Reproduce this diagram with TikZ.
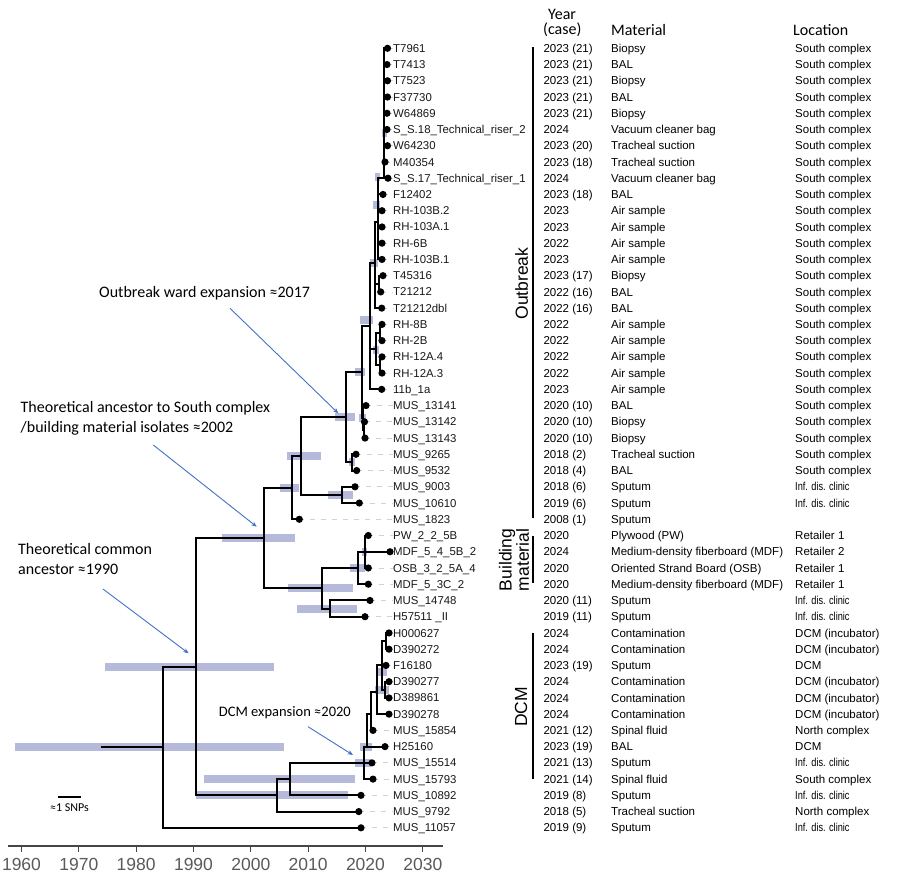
\documentclass[tikz,border=0pt]{standalone}
\usepackage{fontspec}
\usepackage{graphicx}
\setmainfont{Liberation Sans}
\newfontfamily\calib{Carlito}
\usetikzlibrary{arrows.meta}
\definecolor{barcol}{RGB}{170,174,212}
\definecolor{arrowblue}{RGB}{68,114,196}
\definecolor{axisgray}{RGB}{70,70,70}
\definecolor{ticklab}{RGB}{90,90,90}
\newcommand\infdis{\scalebox{0.8}[1]{Inf. dis. clinic}}
\begin{document}
\begin{tikzpicture}[x=1pt,y=-1pt,
  declare function={ry(\i)=48.3+16.24*(\i-1);},
  tree/.style={line width=2pt,line cap=rect,black},
  ci/.style={fill=barcol,opacity=.85},
  leader/.style={gray!35,line width=.8pt,dash pattern=on 5pt off 6pt},
  tiplab/.style={anchor=west,inner sep=0pt,font=\fontsize{11.4}{12}\selectfont,text height=8.1pt,text depth=0pt,text=black!90},
  tab/.style={anchor=west,inner sep=0pt,font=\fontsize{11.5}{12}\selectfont,text height=8.2pt,text depth=0pt},
  header/.style={anchor=west,inner sep=0pt,font=\calib\fontsize{16}{18}\selectfont},
  annot/.style={anchor=west,inner sep=0pt,align=left,font=\calib\fontsize{16}{20}\selectfont},
  clade/.style={rotate=90,inner sep=0pt,align=center,font=\fontsize{17.5}{15}\selectfont},
  cladebar/.style={line width=2pt,black},
  pointer/.style={arrowblue,line width=.9pt,-{Stealth[length=5.5pt,width=4.5pt]}},
  ticklabel/.style={inner sep=0pt,text=ticklab,font=\fontsize{17.5}{18}\selectfont}]
\fill[white] (0,0) rectangle (900,876);
\useasboundingbox (0,0) rectangle (900,876);

% ---------- confidence bars ----------
\foreach \a/\b/\c in {14.5/283.7/746.6, 104.5/274/666.9, 222/295/538.3, 280/299/487.7,
  286.7/321/456, 328.3/353.3/494.9, 335/355/417.2, 349/355/462.4, 355/365/371.9,
  359/366/417.8, 360/373/320, 370/378/263, 373/379/350, 373/380/205, 375/380/177,
  382/387/133, 288.3/352.7/588.3, 350/365/568, 361.7/367/552, 297/357/608.6,
  195.5/347.8/795.4, 203.5/355.4/779.1, 355/371/762.9, 360/372/746.6, 375/389/690, 377/387/672}
  \fill[ci] (\a,{\c-4}) rectangle (\b,{\c+4});

% ---------- tips and labels ----------
\foreach \i/\xx/\t in {
1/387.5/T7961, 2/387/T7413, 3/387.5/T7523, 4/387.5/F37730, 5/387/W64869,
6/387/S\_S.18\_Technical\_riser\_2, 7/387.5/W64230, 8/385/M40354,
9/388/S\_S.17\_Technical\_riser\_1, 10/383/F12402, 11/382/RH-103B.2, 12/382/RH-103A.1,
13/382/RH-6B, 14/382/RH-103B.1, 15/383/T45316, 16/380.7/T21212, 17/381.7/T21212dbl,
18/382/RH-8B, 19/382/RH-2B, 20/382/RH-12A.4, 21/382/RH-12A.3, 22/381.7/11b\_1a,
23/366/MUS\_13141, 24/364.5/MUS\_13142, 25/365/MUS\_13143, 26/356/MUS\_9265,
27/356.7/MUS\_9532, 28/355/MUS\_9003, 29/359.3/MUS\_10610, 30/299.3/MUS\_1823,
31/368.3/PW\_2\_2\_5B, 32/390/MDF\_5\_4\_5B\_2, 33/368.3/OSB\_3\_2\_5A\_4,
34/368.3/MDF\_5\_3C\_2, 35/370/MUS\_14748, 36/365/H57511 \_II, 37/389/H000627,
38/389/D390272, 39/386/F16180, 40/389/D390277, 41/389/D389861, 42/389/D390278,
43/373/MUS\_15854, 44/385/H25160, 45/372/MUS\_15514, 46/373/MUS\_15793,
47/361/MUS\_10892, 48/358.8/MUS\_9792, 49/361/MUS\_11057}
{
  \coordinate (t\i) at (\xx,{ry(\i)});
  \node[tiplab] (lab\i) at (393,{ry(\i)}) {\t};
}
\foreach \i in {1,...,49} \draw[leader] (t\i) -- (lab\i.west);

% ---------- internal nodes ----------
\coordinate (rootstem) at (102,746.6);
\coordinate (root) at (162.6,746.6);
\coordinate (A) at (196.2,666.9);
\coordinate (B) at (264,538.3);
\coordinate (F) at (292.3,487.7);
\coordinate (H) at (301,456);
\coordinate (I) at (341.7,494.9);
\coordinate (J) at (346,417.2);
\coordinate (K) at (351.7,462.4);
\coordinate (M) at (361.7,371.9);
\coordinate (L) at (362.5,417.8);
\coordinate (L2) at (363.5,430);
\coordinate (N) at (370,326);
\coordinate (P) at (375,263);
\coordinate (P1) at (379.3,283.8);
\coordinate (T1) at (377.5,222);
\coordinate (T2) at (384,178.2);
\coordinate (R) at (376,348.8);
\coordinate (S1) at (380,332.5);
\coordinate (S2) at (380,365);
\coordinate (G) at (321.7,588.3);
\coordinate (G1) at (358.3,568);
\coordinate (G1a) at (365,551.8);
\coordinate (G2) at (330.4,608.6);
\coordinate (C) at (276.8,795.4);
\coordinate (D) at (290,779.1);
\coordinate (E) at (364,762.9);
\coordinate (E1) at (367,746.6);
\coordinate (E2) at (371,714.2);
\coordinate (E3) at (377,692);
\coordinate (E4) at (381.7,665.4);
\coordinate (E7) at (386,641);
\coordinate (E6) at (385,689.8);

\draw[tree] (rootstem) -- (root);
\foreach \p/\c in {root/A, root/t49, A/B, A/C, B/F, B/G, F/H, F/t30, H/J, H/I, I/t28, I/t29,
  J/M, J/K, K/t26, K/t27, M/N, M/L, L/t23, L/L2, L2/t24, L2/t25, N/P, N/R, N/t22,
  P/T1, P/P1, P/t17, P1/t15, P1/t16, T1/T2, T1/t10, T1/t11, T1/t12, T1/t13, T1/t14,
  T2/t1, T2/t2, T2/t3, T2/t4, T2/t5, T2/t6, T2/t7, T2/t8, T2/t9,
  R/S1, R/S2, S1/t18, S1/t19, S2/t20, S2/t21,
  G/G1, G/G2, G1/G1a, G1/t34, G1a/t31, G1a/t32, G1a/t33, G2/t35, G2/t36,
  C/D, C/t48, D/E, D/t47, E/E1, E/t45, E/t46, E1/E2, E1/t44, E2/E3, E2/t43,
  E3/E4, E3/t42, E4/E7, E4/t39, E4/E6, E7/t37, E7/t38, E6/t40, E6/t41}
  \draw[tree] (\p) |- (\c);
\foreach \i in {1,...,49} \fill (t\i) circle (3.6pt);

% ---------- table ----------
\node[header] (hyear) at (548,14) {Year};
\node[header] (hcase) at (543,30) {(case)};
\node[header] (hmat) at (611,30) {Material};
\node[header] (hloc) at (793,30) {Location};
\foreach \i/\yr/\mat/\loc in {
1/2023 (21)/Biopsy/South complex, 2/2023 (21)/BAL/South complex,
3/2023 (21)/Biopsy/South complex, 4/2023 (21)/BAL/South complex,
5/2023 (21)/Biopsy/South complex, 6/2024/Vacuum cleaner bag/South complex,
7/2023 (20)/Tracheal suction/South complex, 8/2023 (18)/Tracheal suction/South complex,
9/2024/Vacuum cleaner bag/South complex, 10/2023 (18)/BAL/South complex,
11/2023/Air sample/South complex, 12/2023/Air sample/South complex,
13/2022/Air sample/South complex, 14/2023/Air sample/South complex,
15/2023 (17)/Biopsy/South complex, 16/2022 (16)/BAL/South complex,
17/2022 (16)/BAL/South complex, 18/2022/Air sample/South complex,
19/2022/Air sample/South complex, 20/2022/Air sample/South complex,
21/2022/Air sample/South complex, 22/2023/Air sample/South complex,
23/2020 (10)/BAL/South complex, 24/2020 (10)/Biopsy/South complex,
25/2020 (10)/Biopsy/South complex, 26/2018 (2)/Tracheal suction/South complex,
27/2018 (4)/BAL/South complex, 28/2018 (6)/Sputum/\infdis,
29/2019 (6)/Sputum/\infdis, 30/2008 (1)/Sputum/{},
31/2020/Plywood (PW)/Retailer 1, 32/2024/Medium-density fiberboard (MDF)/Retailer 2,
33/2020/Oriented Strand Board (OSB)/Retailer 1, 34/2020/Medium-density fiberboard (MDF)/Retailer 1,
35/2020 (11)/Sputum/\infdis, 36/2019 (11)/Sputum/\infdis,
37/2024/Contamination/DCM (incubator), 38/2024/Contamination/DCM (incubator),
39/2023 (19)/Sputum/DCM, 40/2024/Contamination/DCM (incubator),
41/2024/Contamination/DCM (incubator), 42/2024/Contamination/DCM (incubator),
43/2021 (12)/Spinal fluid/North complex, 44/2023 (19)/BAL/DCM,
45/2021 (13)/Sputum/\infdis, 46/2021 (14)/Spinal fluid/South complex,
47/2019 (8)/Sputum/\infdis, 48/2018 (5)/Tracheal suction/North complex,
49/2019 (9)/Sputum/\infdis}
{
  \node[tab] (yr\i) at (543.3,{ry(\i)}) {\yr};
  \node[tab] (mat\i) at (611,{ry(\i)}) {\mat};
  \node[tab] (loc\i) at (795,{ry(\i)}) {\loc};
}

% ---------- clade bars ----------
\coordinate (ob1) at (533.3,47); \coordinate (ob2) at (533.3,518.3);
\coordinate (bm1) at (533.3,536); \coordinate (bm2) at (533.3,583.3);
\coordinate (dc1) at (533.3,633.3); \coordinate (dc2) at (533.3,779);
\draw[cladebar] (ob1) -- (ob2);
\draw[cladebar] (bm1) -- (bm2);
\draw[cladebar] (dc1) -- (dc2);
\node[clade] (outbreak) at (521.7,283.5) {Outbreak};
\node[clade] (building) at (514,560) {Building\\material};
\node[clade] (dcm) at (521,706.7) {DCM};

% ---------- annotations ----------
\node[annot] (ann1) at (99,293) {Outbreak ward expansion ≈2017};
\node[annot] (ann2) at (20.5,418.3) {Theoretical ancestor to South complex\\/building material isolates ≈2002};
\node[annot] (ann3) at (18,559) {Theoretical common\\ancestor ≈1990};
\node[annot,font=\calib\fontsize{14.5}{16}\selectfont] (ann4) at (218.7,712.7) {DCM expansion ≈2020};
\coordinate (a1s) at (230,308.3); \coordinate (a1e) at (338.3,413.3);
\coordinate (a2s) at (153.3,445); \coordinate (a2e) at (256.7,526.7);
\coordinate (a3s) at (103,589); \coordinate (a3e) at (188.6,653.3);
\coordinate (a4s) at (308,726.7); \coordinate (a4e) at (353,755);
\draw[pointer] (a1s) -- (a1e);
\draw[pointer] (a2s) -- (a2e);
\draw[pointer] (a3s) -- (a3e);
\draw[pointer] (a4s) -- (a4e);

% ---------- scale bar ----------
\coordinate (sb1) at (58,796.7); \coordinate (sb2) at (81.3,796.7);
\draw[line width=2pt] (sb1) -- (sb2);
\node[inner sep=0pt,font=\calib\fontsize{12}{13}\selectfont] (sbl) at (69.5,807.5) {≈1 SNPs};

% ---------- time axis ----------
\coordinate (ax1) at (8,846); \coordinate (ax2) at (443,846);
\draw[axisgray,line width=2pt] (ax1) -- (ax2);
\foreach \yy in {1960,1970,...,2030} {
  \draw[axisgray,line width=1.2pt] ({21.5+(\yy-1960)*5.733},846) -- ({21.5+(\yy-1960)*5.733},852);
  \node[ticklabel] (tick\yy) at ({21.5+(\yy-1960)*5.733},864.5) {\yy};
}
\end{tikzpicture}
\end{document}
